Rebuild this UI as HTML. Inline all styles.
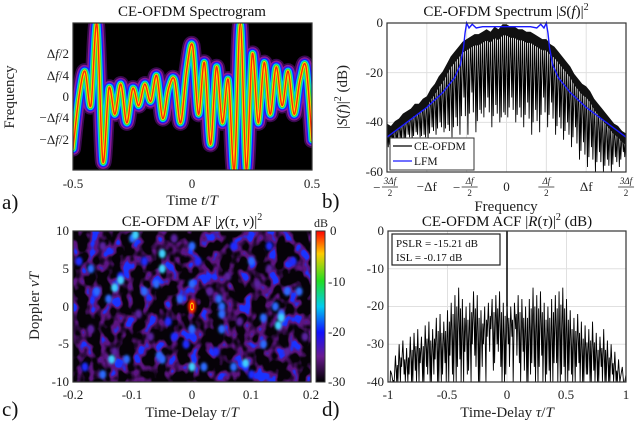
<!DOCTYPE html>
<html><head><meta charset="utf-8">
<style>
html,body{margin:0;padding:0;background:#fff;}
svg{display:block;font-family:"Liberation Serif",serif;}
.t{font-size:15px;fill:#111;}
.tk{font-size:13px;fill:#222;}
.lb{font-size:15px;fill:#222;}
.pl{font-size:21px;fill:#111;}
</style></head><body>
<svg id="fig" width="638" height="424" viewBox="0 0 638 424" xmlns="http://www.w3.org/2000/svg">
<defs>
<clipPath id="clipC"><rect x="73" y="231" width="238" height="151"/></clipPath>
<filter id="blurC" x="-30%" y="-30%" width="160%" height="160%"><feGaussianBlur stdDeviation="1.2"/></filter>
<filter id="texP" x="0" y="0" width="100%" height="100%" color-interpolation-filters="sRGB">
<feTurbulence type="fractalNoise" baseFrequency="0.09 0.07" numOctaves="2" seed="5"/>
<feColorMatrix type="matrix" values="0 0 0 0 0.36  0 0 0 0 0.08  0 0 0 0 0.5  7 0 0 0 -3.1"/>
</filter>
<filter id="texB" x="0" y="0" width="100%" height="100%" color-interpolation-filters="sRGB">
<feTurbulence type="fractalNoise" baseFrequency="0.09 0.07" numOctaves="2" seed="5"/>
<feColorMatrix type="matrix" values="0 0 0 0 0.1  0 0 0 0 0.2  0 0 0 0 1  12 0 0 0 -7.4"/>
</filter>
<linearGradient id="cbar" x1="0" y1="0" x2="0" y2="1">
<stop offset="0" stop-color="#ff0000"/><stop offset="0.15" stop-color="#ffcc00"/>
<stop offset="0.33" stop-color="#22dd22"/><stop offset="0.5" stop-color="#00ccee"/>
<stop offset="0.67" stop-color="#1010ff"/><stop offset="0.83" stop-color="#6a1a90"/>
<stop offset="1" stop-color="#000"/></linearGradient>
<clipPath id="clipD"><rect x="388" y="231" width="238" height="151"/></clipPath>
</defs>
<!-- Panel A -->
<g>
<text class="t" x="192" y="16" text-anchor="middle">CE-OFDM Spectrogram</text>
<rect x="73" y="23" width="239" height="147" fill="#000"/>
<g id="specTrace"></g>
<rect x="73" y="23" width="239" height="147" fill="none" stroke="#333" stroke-width="1.2"/>
<g class="tk" text-anchor="end">
<text x="69" y="58">Δ<tspan font-style="italic">f</tspan>/2</text>
<text x="69" y="80">Δ<tspan font-style="italic">f</tspan>/4</text>
<text x="69" y="101">0</text>
<text x="69" y="122">−Δ<tspan font-style="italic">f</tspan>/4</text>
<text x="69" y="144">−Δ<tspan font-style="italic">f</tspan>/2</text>
</g>
<g class="tk" text-anchor="middle">
<text x="73" y="188">-0.5</text><text x="192" y="188">0</text><text x="312" y="188">0.5</text>
</g>
<text class="lb" transform="translate(14,97) rotate(-90)" text-anchor="middle">Frequency</text>
<text class="lb" x="192" y="205" text-anchor="middle">Time <tspan font-style="italic">t</tspan>/<tspan font-style="italic">T</tspan></text>
<text class="pl" x="2" y="209">a)</text>
</g>
<!-- Panel B -->
<g>
<text class="t" x="506" y="16" text-anchor="middle">CE-OFDM Spectrum |<tspan font-style="italic">S</tspan>(<tspan font-style="italic">f</tspan>)|<tspan font-size="10" dy="-6">2</tspan></text>
<rect x="387" y="23" width="239" height="149" fill="#fff"/>
<g id="gridB" stroke="#e0e0e0" stroke-width="1"></g>
<g id="specB"></g>
<rect x="387" y="23" width="239" height="149" fill="none" stroke="#333" stroke-width="1.2"/>
<g class="tk" text-anchor="end">
<text x="383" y="27">0</text><text x="383" y="77">-20</text><text x="383" y="126">-40</text><text x="383" y="176">-60</text>
</g>
<g id="xtB" class="tk" text-anchor="middle"></g>
<text class="lb" transform="translate(347,97) rotate(-90)" text-anchor="middle">|<tspan font-style="italic">S</tspan>(<tspan font-style="italic">f</tspan>)|<tspan font-size="10" dy="-6">2</tspan><tspan dy="6"> (dB)</tspan></text>
<text class="lb" x="506" y="211" text-anchor="middle">Frequency</text>
<text class="pl" x="322" y="208">b)</text>
<g>
<rect x="390" y="138" width="84" height="32" fill="#fff" stroke="#333" stroke-width="1"/>
<line x1="393" y1="146" x2="412" y2="146" stroke="#000" stroke-width="1.2"/>
<text x="414" y="150" font-size="11.5" fill="#111">CE-OFDM</text>
<line x1="393" y1="161" x2="412" y2="161" stroke="#1a1aff" stroke-width="1.2"/>
<text x="414" y="165" font-size="11.5" fill="#111">LFM</text>
</g>
</g>
<!-- Panel C -->
<g>
<text class="t" x="192" y="226" text-anchor="middle">CE-OFDM AF |<tspan font-style="italic">χ</tspan>(<tspan font-style="italic">τ</tspan>, <tspan font-style="italic">ν</tspan>)|<tspan font-size="10" dy="-6">2</tspan></text>
<rect x="73" y="231" width="238" height="151" fill="#060208"/>
<rect x="73" y="231" width="238" height="151" filter="url(#texP)"/>
<rect x="73" y="231" width="238" height="151" filter="url(#texB)"/>
<g id="afC" clip-path="url(#clipC)"></g>
<rect x="73" y="231" width="238" height="151" fill="none" stroke="#333" stroke-width="1.2"/>
<g class="tk" text-anchor="end">
<text x="69" y="235">10</text><text x="69" y="273">5</text><text x="69" y="311">0</text><text x="69" y="348">-5</text><text x="69" y="386">-10</text>
</g>
<g class="tk" text-anchor="middle">
<text x="73" y="399">-0.2</text><text x="132" y="399">-0.1</text><text x="192" y="399">0</text><text x="251" y="399">0.1</text><text x="311" y="399">0.2</text>
</g>
<text class="lb" transform="translate(39,306) rotate(-90)" text-anchor="middle">Doppler <tspan font-style="italic">νT</tspan></text>
<text class="lb" x="192" y="417" text-anchor="middle">Time-Delay <tspan font-style="italic">τ</tspan>/<tspan font-style="italic">T</tspan></text>
<text class="pl" x="2" y="416">c)</text>
<g>
<rect x="316" y="231" width="9" height="151" fill="url(#cbar)" stroke="#333" stroke-width="1"/>
<text x="314" y="227" font-size="12" fill="#222">dB</text>
<g class="tk">
<text x="330" y="235">0</text><text x="328" y="286">-10</text><text x="328" y="336">-20</text><text x="328" y="386">-30</text>
</g>
</g>
</g>
<!-- Panel D -->
<g>
<text class="t" x="507" y="226" text-anchor="middle">CE-OFDM ACF |<tspan font-style="italic">R</tspan>(<tspan font-style="italic">τ</tspan>)|<tspan font-size="10" dy="-6">2</tspan><tspan dy="6"> (dB)</tspan></text>
<g id="gridD" stroke="#e0e0e0" stroke-width="1"></g>
<g id="acfD" clip-path="url(#clipD)"></g>
<rect x="388" y="231" width="238" height="151" fill="none" stroke="#333" stroke-width="1.2"/>
<g class="tk" text-anchor="end">
<text x="384" y="235">0</text><text x="384" y="273">-10</text><text x="384" y="310">-20</text><text x="384" y="348">-30</text><text x="384" y="386">-40</text>
</g>
<g class="tk" text-anchor="middle">
<text x="388" y="399">-1</text><text x="447" y="399">-0.5</text><text x="507" y="399">0</text><text x="566" y="399">0.5</text><text x="626" y="399">1</text>
</g>
<text class="lb" x="507" y="417" text-anchor="middle">Time-Delay <tspan font-style="italic">τ</tspan>/<tspan font-style="italic">T</tspan></text>
<text class="pl" x="322" y="416">d)</text>
<g>
<rect x="392" y="234" width="108" height="31" fill="#fff" stroke="#222" stroke-width="1.2"/>
<text x="396" y="247" font-size="11" fill="#111">PSLR = -15.21 dB</text>
<text x="396" y="261" font-size="11" fill="#111">ISL = -0.17 dB</text>
</g>
</g>
</svg>
<script>
// ---- Panel A data: instantaneous frequency trace (units of Δf) ----
const specTimes = [-0.5,-0.475,-0.45,-0.425,-0.4,-0.375,-0.35,-0.325,-0.3,-0.275,-0.25,-0.225,-0.2,-0.175,-0.15,-0.125,-0.1,-0.075,-0.05,-0.025,0,0.025,0.05,0.075,0.1,0.125,0.15,0.175,0.2,0.225,0.25,0.275,0.3,0.325,0.35,0.375,0.4,0.425,0.45,0.475,0.5];
const specFreq = [-0.6,0.0,0.3,-0.1,0.85,-0.75,0.1,-0.2,0.15,-0.3,0.1,-0.1,0.15,-0.05,0.25,-0.25,0.1,0.2,-0.3,0.3,0.6,-0.2,0.4,-0.55,0.35,-0.3,0.2,-0.85,0.85,-0.85,0.5,-0.3,0.4,-0.2,0.35,-0.1,0.3,-0.2,0.2,0.35,-0.5];
// ---- Panel B data ----
const bFreq = [-1.5,-1.45,-1.4,-1.35,-1.3,-1.25,-1.2,-1.15,-1.1,-1.05,-1.0,-0.95,-0.9,-0.85,-0.8,-0.75,-0.7,-0.65,-0.6,-0.55,-0.5,-0.45,-0.4,-0.35,-0.3,-0.25,-0.2,-0.15,-0.1,-0.05,0,0.05,0.1,0.15,0.2,0.25,0.3,0.35,0.4,0.45,0.5,0.55,0.6,0.65,0.7,0.75,0.8,0.85,0.9,0.95,1.0,1.05,1.1,1.15,1.2,1.25,1.3,1.35,1.4,1.45,1.5];
const bPeak = [-41,-42,-40,-39,-37,-36,-35,-33,-33,-31,-30,-27,-25,-22,-20,-17,-14,-12,-10,-8,-7,-6,-5,-5,-4,-3,-4,-2,-3,-1,-1,-2,-2,-3,-3,-4,-4,-5,-6,-7,-7,-9,-10,-12,-14,-16,-18,-21,-23,-25,-26,-28,-31,-33,-35,-37,-39,-41,-42,-44,-45];
const bDip = [-50,-48,-49,-47,-48,-45,-47,-44,-46,-45,-47,-42,-45,-40,-44,-41,-46,-38,-45,-30,-45,-28,-44,-35,-38,-30,-42,-33,-40,-36,-38,-30,-40,-34,-42,-32,-45,-35,-44,-30,-42,-32,-45,-38,-47,-40,-50,-42,-55,-48,-58,-50,-60,-52,-60,-55,-60,-54,-58,-52,-56];
const lfmFreq = [-1.5,-1.25,-1.0,-0.8,-0.65,-0.58,-0.54,-0.52,-0.5,-0.47,-0.43,-0.38,-0.3,0,0.3,0.38,0.43,0.47,0.5,0.52,0.54,0.58,0.65,0.8,1.0,1.25,1.5];
const lfmDb = [-46,-40,-34,-28,-22,-17,-10,-4,0,-2,-0.5,-2,-1.5,-1.5,-1.5,-2,-0.5,-2,0,-4,-10,-17,-22,-28,-34,-40,-46];
const bTicks = ["−3/2","−1","−1/2","0","1/2","1","3/2"];
// ---- Panel C data: AF blobs [tau, nu, level dB] ----
const afTau = [-0.19,-0.17,-0.16,-0.15,-0.14,-0.13,-0.12,-0.1,-0.09,-0.08,-0.07,-0.06,-0.05,-0.05,-0.04,-0.03,-0.02,-0.01,0,0,0,0.01,0.02,0.03,0.04,0.05,0.05,0.06,0.07,0.08,0.09,0.1,0.11,0.12,0.13,0.14,0.15,0.16,0.17,0.18,0.19,-0.18,-0.11,-0.03,0.07,0.13,-0.15,0.1,0.16,-0.08,-0.13,-0.12,-0.135,-0.05,-0.055,0.045,0.05,0.15,0.145,0.12,-0.095,0,0,0.09,-0.17];
const afNu = [6,-3,2,8,1,-6,4,9,-1,6,-4,3,5,-7,-2,9,1,-5,0,3,-3,6,-8,2,-6,0,-3,4,8,-2,-8,6,3,-5,8,0,-1,-6,6,2,-4,-8,-7,-4,-8,5,-9,-9,2,2,2.5,3.5,-7,7,-6.5,1,-1,-1.5,-2.5,-1.5,9.5,-8,8,-7.5,5];
const afLevel = [-20,-21,-19,-22,-18,-21,-20,-19,-21,-20,-22,-19,-17,-18,-20,-21,-19,-20,0,-18,-18,-20,-19,-21,-20,-18,-19,-21,-20,-22,-20,-19,-21,-18,-20,-19,-18,-21,-20,-19,-22,-20,-19,-20,-18,-21,-19,-20,-19,-18,-17,-17,-17,-17,-18,-18,-19,-17,-17,-18,-17,-17,-18,-17,-18];
// ---- Panel D data ----
const acfPeak = [-40,-38,-33,-30,-29,-31,-28,-27,-26,-28,-25,-24,-26,-23,-22,-24,-21,-19,-17,-15,-18,-20,-19,-16,-17,-21,-20,-19,-18,-17,-16,-19,-18,-20,-19,-17,-18,-20,-18,-15,-17,-16,-19,-20,-18,-17,-16,-15,-18,-21,-23,-22,-24,-25,-26,-24,-27,-28,-26,-29,-30,-32,-34,-36,-38];
const acfDip = [-40,-40,-40,-40,-38,-40,-40,-37,-40,-40,-36,-40,-38,-40,-40,-35,-40,-38,-40,-34,-40,-38,-40,-33,-40,-36,-40,-32,-37,-30,-36,-40,-30,-28,-26,-35,-32,-40,-38,-36,-40,-33,-40,-37,-40,-35,-40,-36,-40,-38,-40,-35,-40,-38,-40,-37,-40,-36,-40,-40,-38,-40,-40,-40,-40];
const acfMain = 0;

const NS = "http://www.w3.org/2000/svg";
function mk(tag, attrs, parent){const e=document.createElementNS(NS,tag);for(const k in attrs)e.setAttribute(k,attrs[k]);parent.appendChild(e);return e;}

// Panel A
const ax = t => 73 + (t + 0.5) * 239;
const ay = f => 97 - f * 86;
function catmull(xs, ys){
  let d = "M"+ax(xs[0])+","+ay(ys[0]);
  for(let i=0;i<xs.length-1;i++){
    const p0=[ax(xs[Math.max(i-1,0)]),ay(ys[Math.max(i-1,0)])],p1=[ax(xs[i]),ay(ys[i])],p2=[ax(xs[i+1]),ay(ys[i+1])],p3=[ax(xs[Math.min(i+2,xs.length-1)]),ay(ys[Math.min(i+2,xs.length-1)])];
    const c1=[p1[0]+(p2[0]-p0[0])/6,p1[1]+(p2[1]-p0[1])/6],c2=[p2[0]-(p3[0]-p1[0])/6,p2[1]-(p3[1]-p1[1])/6];
    d+=" C"+c1+" "+c2+" "+p2;
  }
  return d;
}
const specPath = catmull(specTimes, specFreq);
const layers = [["#3a0a50",16],["#8a1a9a",12.5],["#1a1aff",9.5],["#00ccee",7],["#33dd33",4.8],["#ffdd00",3],["#ff2a00",1.4]];
const gA = document.getElementById("specTrace");
const clipA = mk("clipPath",{id:"clipA"},gA); mk("rect",{x:73,y:23,width:239,height:147},clipA);
layers.forEach(([c,w])=>{
  const p = mk("path",{d:specPath,fill:"none",stroke:c,"stroke-width":w,"stroke-linejoin":"round","stroke-linecap":"round","clip-path":"url(#clipA)"},gA);
  
  
});

// Panel B
const bx = f => 506.5 + f * 79.7;
const by = d => 23 + (-d) * 149 / 60;
const gridB = document.getElementById("gridB");
[-1.5,-1,-0.5,0,0.5,1,1.5].forEach(f=>mk("line",{x1:bx(f),x2:bx(f),y1:23,y2:172},gridB));
[0,-20,-40,-60].forEach(d=>mk("line",{x1:387,x2:626,y1:by(d),y2:by(d)},gridB));
const gB = document.getElementById("specB");
let pts=[];
for(let i=0;i<bFreq.length;i++){
  const x=bx(bFreq[i]);
  pts.push(x+","+by(bPeak[i]));
  if(i<bFreq.length-1){
    const xm=(x+bx(bFreq[i+1]))/2;
    pts.push((xm-0.7)+","+by(bDip[i]));
    pts.push((xm)+","+by((bPeak[i]+bPeak[i+1])/2-3));
    pts.push((xm+0.7)+","+by((bDip[i]+bDip[i+1])/2));
  }
}
const bl = mk("polyline",{points:pts.join(" "),fill:"none",stroke:"#000","stroke-width":0.9,"stroke-linejoin":"bevel"},gB);


const fillPts=[];
for(let i=0;i<bFreq.length;i++) fillPts.push(bx(bFreq[i])+","+by(bPeak[i]+0.5));
for(let i=bFreq.length-1;i>=0;i--) fillPts.push(bx(bFreq[i])+","+by(bPeak[i]-4));
const bf = mk("polygon",{points:fillPts.join(" "),fill:"#111"},gB);


const lp = lfmFreq.map((f,i)=>bx(f)+","+by(lfmDb[i])).join(" ");
const ll = mk("polyline",{points:lp,fill:"none",stroke:"#1a1aff","stroke-width":1.4},gB);


const xtB = document.getElementById("xtB");
bTicks.forEach((lab,i)=>{
  const x = bx(-1.5 + i*0.5);
  const neg = lab.startsWith("−");
  const body = lab.replace("−","");
  if(body.includes("/")){
    const [n,dd]=body.split("/");
    const num = n==="1"?"Δf":n+"Δf";
    if(neg) mk("text",{x:x-10,y:192,"font-size":13},xtB).textContent="−";
    const t1 = mk("text",{x:x+(neg?3:0),y:184,"font-size":9,"font-style":"italic"},xtB); t1.textContent=num;
    mk("line",{x1:x+(neg?-5:-8),x2:x+(neg?11:8),y1:187,y2:187,stroke:"#222","stroke-width":0.7},xtB);
    const t2 = mk("text",{x:x+(neg?3:0),y:196,"font-size":9},xtB); t2.textContent=dd;
  } else if(body==="0"){
    mk("text",{x:x,y:191},xtB).textContent="0";
  } else {
    mk("text",{x:x,y:191},xtB).textContent=(neg?"−":"")+"Δf";
  }
});

// Panel C
const cx = t => 192 + t * 595;
const cy = n => 306.5 - n * 7.55;
const gC = document.getElementById("afC");
function afColor(l){ if(l>-3) return "#ff2000"; if(l>-17.5) return "#40d0ff"; if(l>-19.5) return "#2a6aff"; if(l>-21) return "#1a2aff"; return "#5a20a0"; }
for(let i=0;i<afTau.length;i++){
  const big = afLevel[i] > -3;
  const e = mk("ellipse",{cx:cx(afTau[i]),cy:cy(afNu[i]),rx:big?4:3.5,ry:big?7:4.5,fill:afColor(afLevel[i]),filter:"url(#blurC)"},gC);
  
  
  if(big){
    const y2 = mk("ellipse",{cx:cx(afTau[i]),cy:cy(afNu[i]),rx:2,ry:4,fill:"#ffcc00"},gC);
    
    
    const y3 = mk("ellipse",{cx:cx(afTau[i]),cy:cy(afNu[i]),rx:1.2,ry:2.5,fill:"#ff2000"},gC);
    
    
  }
}

// Panel D
const dx = t => 507 + t * 119;
const dy = d => 231 + (-d) * 151 / 40;
const gridD = document.getElementById("gridD");
[-1,-0.5,0,0.5,1].forEach(t=>mk("line",{x1:dx(t),x2:dx(t),y1:231,y2:382},gridD));
[0,-10,-20,-30,-40].forEach(d=>mk("line",{x1:388,x2:626,y1:dy(d),y2:dy(d)},gridD));
const gD = document.getElementById("acfD");
const nD = acfPeak.length;
let dp=[];
for(let i=0;i<nD;i++){
  const t=-1+2*i/(nD-1), t2=-1+2*(i+0.5)/(nD-1);
  dp.push(dx(t)+","+dy(acfPeak[i]));
  if(i<nD-1){
    dp.push((dx(t2)-0.6)+","+dy(acfDip[i]));
    dp.push(dx(t2)+","+dy((acfPeak[i]+acfPeak[i+1])/2-4));
    dp.push((dx(t2)+0.6)+","+dy(acfDip[(i+7)%nD]));
  }
}
const dl = mk("polyline",{points:dp.join(" "),fill:"none",stroke:"#000","stroke-width":0.9,"stroke-linejoin":"bevel"},gD);


const ml = mk("line",{x1:dx(0),x2:dx(0),y1:dy(acfMain),y2:dy(-20),stroke:"#000","stroke-width":1.5},gD);


</script>
</body></html>
